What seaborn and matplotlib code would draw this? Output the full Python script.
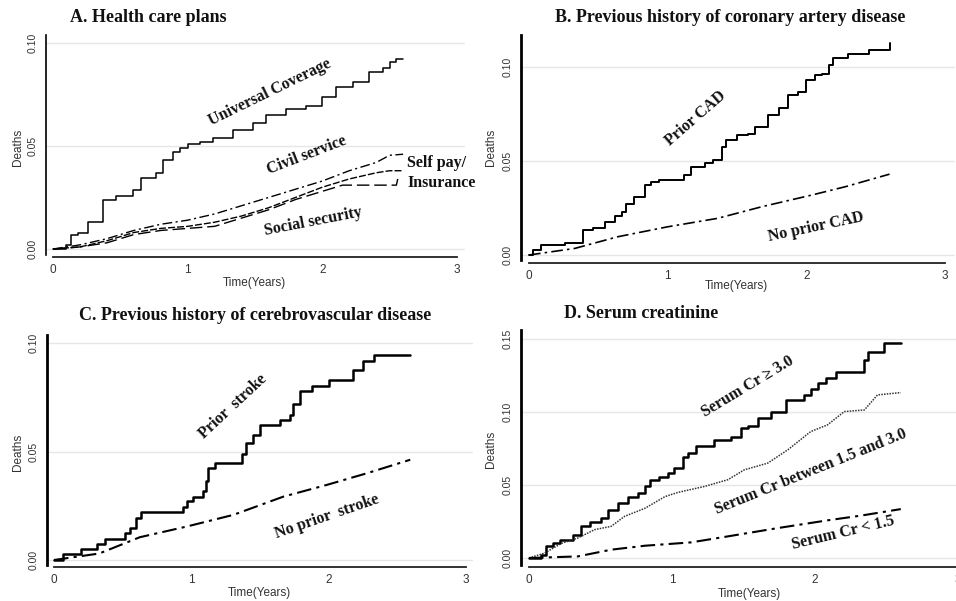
import matplotlib
matplotlib.use("Agg")
import matplotlib.pyplot as plt
import seaborn as sns
import pandas as pd

# ---------------- data ----------------
# A. Health care plans
A_uc_t = [0, 0.10, 0.136, 0.186, 0.26, 0.371, 0.47, 0.594, 0.656, 0.767, 0.817, 0.89, 0.94, 1.0, 1.09, 1.19, 1.34, 1.485, 1.58, 1.73, 1.88, 2.0, 2.1, 2.23, 2.35, 2.45, 2.5, 2.55, 2.6]
A_uc_y = [0, 0.002, 0.007, 0.008, 0.013, 0.024, 0.0256, 0.0285, 0.0345, 0.037, 0.043, 0.047, 0.049, 0.051, 0.052, 0.054, 0.0576, 0.061, 0.065, 0.068, 0.0696, 0.074, 0.0786, 0.081, 0.0858, 0.0879, 0.091, 0.092, 0.092]
A_civil_t = [0, 0.2, 0.4, 0.6, 0.8, 1.0, 1.2, 1.4, 1.6, 1.8, 2.0, 2.2, 2.4, 2.5, 2.6]
A_civil_y = [0, 0.002, 0.005, 0.009, 0.012, 0.014, 0.017, 0.021, 0.025, 0.029, 0.033, 0.038, 0.042, 0.0455, 0.046]
A_social_t = [0, 0.2, 0.4, 0.6, 0.8, 1.0, 1.2, 1.4, 1.6, 1.8, 2.0, 2.2, 2.4, 2.5, 2.6]
A_social_y = [0, 0.001, 0.004, 0.008, 0.010, 0.011, 0.013, 0.016, 0.020, 0.025, 0.030, 0.034, 0.037, 0.038, 0.038]
A_self_t = [0, 0.2, 0.4, 0.6, 0.8, 1.0, 1.2, 1.4, 1.6, 1.8, 2.0, 2.15, 2.55, 2.56]
A_self_y = [0, 0.001, 0.003, 0.007, 0.009, 0.010, 0.011, 0.015, 0.019, 0.024, 0.028, 0.031, 0.031, 0.034]

# B. Previous history of coronary artery disease
B_cad_t = [0, 0.03, 0.09, 0.26, 0.39, 0.46, 0.55, 0.62, 0.67, 0.70, 0.76, 0.835, 0.88, 0.94, 1.12, 1.17, 1.27, 1.33, 1.39, 1.42, 1.50, 1.58, 1.63, 1.72, 1.80, 1.87, 1.94, 2.00, 2.06, 2.11, 2.16, 2.19, 2.30, 2.45, 2.60]
B_cad_y = [0, 0.0027, 0.0053, 0.0065, 0.0133, 0.0145, 0.0177, 0.021, 0.023, 0.027, 0.031, 0.037, 0.039, 0.040, 0.0425, 0.047, 0.049, 0.0504, 0.0575, 0.0614, 0.0637, 0.0646, 0.068, 0.0743, 0.078, 0.085, 0.0867, 0.093, 0.0956, 0.0965, 0.101, 0.105, 0.107, 0.109, 0.113]
B_nocad_t = [0, 0.33, 0.64, 1.0, 1.36, 1.68, 2.04, 2.28, 2.60]
B_nocad_y = [0, 0.0035, 0.0097, 0.015, 0.0195, 0.0257, 0.0319, 0.0363, 0.043]

# C. Previous history of cerebrovascular disease
C_stroke_t = [0, 0.066, 0.20, 0.31, 0.37, 0.52, 0.55, 0.60, 0.636, 0.94, 0.965, 1.014, 1.087, 1.11, 1.123, 1.17, 1.366, 1.40, 1.45, 1.50, 1.646, 1.72, 1.74, 1.79, 1.877, 2.0, 2.18, 2.25, 2.33, 2.594]
C_stroke_y = [0, 0.0028, 0.0049, 0.0074, 0.0095, 0.0123, 0.0146, 0.0192, 0.022, 0.0246, 0.027, 0.0292, 0.032, 0.0362, 0.0423, 0.0446, 0.049, 0.054, 0.0577, 0.0623, 0.0646, 0.067, 0.072, 0.0777, 0.080, 0.083, 0.0877, 0.0915, 0.0946, 0.0946]
C_nostroke_t = [0, 0.33, 0.625, 0.965, 1.306, 1.67, 1.986, 2.28, 2.594]
C_nostroke_y = [0, 0.003, 0.0105, 0.0154, 0.0208, 0.0292, 0.0346, 0.040, 0.0462]

# D. Serum creatinine
D_hi_t = [0, 0.086, 0.12, 0.168, 0.214, 0.307, 0.366, 0.424, 0.505, 0.552, 0.62, 0.69, 0.76, 0.81, 0.843, 0.91, 0.97, 1.017, 1.076, 1.11, 1.17, 1.297, 1.413, 1.483, 1.53, 1.60, 1.69, 1.80, 1.925, 1.97, 2.02, 2.077, 2.147, 2.345, 2.368, 2.484, 2.60]
D_hi_y = [0, 0.0023, 0.0084, 0.0103, 0.0125, 0.016, 0.0217, 0.0244, 0.0274, 0.033, 0.0376, 0.042, 0.0445, 0.049, 0.0536, 0.0558, 0.058, 0.0615, 0.0695, 0.0718, 0.0764, 0.081, 0.0832, 0.089, 0.0905, 0.0957, 0.1003, 0.108, 0.1117, 0.116, 0.1197, 0.123, 0.1276, 0.1356, 0.141, 0.147, 0.147]
D_mid_t = [0, 0.11, 0.226, 0.342, 0.458, 0.575, 0.668, 0.81, 0.95, 1.04, 1.227, 1.39, 1.506, 1.67, 1.81, 1.97, 2.088, 2.205, 2.345, 2.437, 2.60]
D_mid_y = [0, 0.0034, 0.010, 0.0137, 0.0194, 0.0217, 0.0285, 0.034, 0.042, 0.0449, 0.049, 0.0536, 0.0604, 0.065, 0.0741, 0.0866, 0.0912, 0.1003, 0.1014, 0.1117, 0.1133]
D_lo_t = [0, 0.342, 0.575, 0.81, 1.134, 1.39, 1.74, 2.088, 2.32, 2.60]
D_lo_y = [0, 0.0011, 0.0057, 0.0084, 0.0107, 0.0148, 0.0205, 0.0258, 0.029, 0.0335]

x_ticks = [0, 1, 2, 3]
y_ticks_abc = [0.00, 0.05, 0.10]
y_ticks_d = [0.00, 0.05, 0.10, 0.15]

titles = ["A. Health care plans",
          "B. Previous history of coronary artery disease",
          "C. Previous history of cerebrovascular disease",
          "D. Serum creatinine"]

# ---------------- style ----------------
sns.set_theme(style="white")
plt.rcParams["font.family"] = ["Liberation Sans", "DejaVu Sans"]
SERIF = ["Liberation Serif", "DejaVu Serif"]

W, H = 956, 601
fig = plt.figure(figsize=(W / 100, H / 100), dpi=100)
fig.patch.set_facecolor("white")


def P(x, y):
    return x / W, 1 - y / H


def make_ax(x0, x3, left, right, y0, yt, ytv, top, bottom, xsp, yticks, spw):
    ppx = (x3 - x0) / 3.0
    ppy = (y0 - yt) / ytv
    ax = fig.add_axes([left / W, (H - bottom) / H, (right - left) / W, (bottom - top) / H])
    ax.set_xlim((left - x0) / ppx, (right - x0) / ppx)
    ax.set_ylim((y0 - bottom) / ppy, (y0 - top) / ppy)
    ax.set_facecolor("white")
    for s in ["top", "right"]:
        ax.spines[s].set_visible(False)
    ax.spines["left"].set_linewidth(spw)
    ax.spines["left"].set_color("black")
    ax.spines["bottom"].set_linewidth(1.3)
    ax.spines["bottom"].set_color("#222222")
    ax.spines["bottom"].set_position(("outward", (xsp - bottom) * 0.72))
    ax.spines["bottom"].set_bounds(0, 3)
    ax.set_xticks(x_ticks)
    ax.set_xticklabels([str(v) for v in x_ticks])
    ax.set_yticks(yticks)
    ax.set_yticklabels([f"{v:.2f}" for v in yticks])
    for v in yticks:
        ax.axhline(v, color="#e6e6e6", lw=1.0, zorder=0)
    ax.tick_params(axis="x", direction="in", length=3, width=1, colors="#222222",
                   labelsize=8.5, labelcolor="#333333", pad=5)
    ax.tick_params(axis="y", direction="out", length=3, width=1, colors="#222222",
                   labelsize=7.5, labelcolor="#333333", pad=3)
    plt.setp(ax.get_yticklabels(), rotation=90, va="center")
    ax.grid(False)
    return ax


def line(ax, t, y, lw, ls="-", steps=False, color="black"):
    assert len(t) == len(y)
    df = pd.DataFrame({"t": t, "y": y})
    kw = dict(drawstyle="steps-post") if steps else {}
    sns.lineplot(data=df, x="t", y="y", ax=ax, color=color, lw=lw, linestyle=ls,
                 estimator=None, sort=False, **kw)
    ax.set_xlabel("")
    ax.set_ylabel("")


DASHDOT = (0, (7, 2.5, 1.5, 2.5))

# ---------- Panel A ----------
axA = make_ax(53, 457, 46, 465, 249, 43, 0.10, 35, 255, 257, y_ticks_abc, 1.2)
line(axA, A_uc_t, A_uc_y, 1.1, steps=True)
line(axA, A_civil_t, A_civil_y, 1.0, DASHDOT)
line(axA, A_social_t, A_social_y, 1.0, (0, (5, 1.5)))
line(axA, A_self_t, A_self_y, 1.0, (0, (9, 3.5)))

# ---------- Panel B ----------
axB = make_ax(529, 945, 521, 955, 255, 67, 0.10, 35, 260, 263, y_ticks_abc, 2.0)
line(axB, B_cad_t, B_cad_y, 1.4, steps=True)
line(axB, B_nocad_t, B_nocad_y, 1.2, DASHDOT)

# ---------- Panel C ----------
axC = make_ax(54, 466, 47, 473, 560, 343, 0.10, 335, 565, 567, y_ticks_abc, 2.0)
line(axC, C_stroke_t, C_stroke_y, 1.8, steps=True)
line(axC, C_nostroke_t, C_nostroke_y, 1.5, DASHDOT)

# ---------- Panel D ----------
axD = make_ax(529, 958, 521, 962, 558, 339, 0.15, 330, 565, 567, y_ticks_d, 2.0)
line(axD, D_hi_t, D_hi_y, 1.8, steps=True)
line(axD, D_mid_t, D_mid_y, 1.1, (0, (1, 0.8)), color="#333333")
line(axD, D_lo_t, D_lo_y, 1.5, DASHDOT)

# axis titles
for ax, (xl, yl), (yx, yy) in [
    (axA, (254, 283), (18, 147)),
    (axB, (736, 286), (491, 147)),
    (axC, (259, 593), (18, 452)),
    (axD, (749, 594), (491, 449)),
]:
    ax.set_ylabel("Deaths", fontsize=8.5, color="#333333")
    ax.yaxis.set_label_coords(*P(yx, yy), transform=fig.transFigure)
    ax.set_xlabel("Time(Years)", fontsize=8.5, color="#333333")
    ax.xaxis.set_label_coords(*P(xl, yl), transform=fig.transFigure)
    ax.xaxis.label.set_va("center")
    ax.yaxis.label.set_va("center")

# panel titles
for txt, (tx, ty) in zip(titles, [(148, 18), (730, 17), (255, 316), (641, 313)]):
    fig.text(*P(tx, ty), txt, family=SERIF, fontweight="bold", fontsize=13,
             ha="center", va="center", color="#111111")

# curve labels
labels = [
    ("Universal Coverage", 270, 92, 26, "center"),
    ("Civil service", 307, 155, 21, "center"),
    ("Self pay/", 407, 163, 0, "left"),
    ("Insurance", 407, 183, 0, "left"),
    ("Social security", 313, 222, 11, "center"),
    ("Prior CAD", 696, 118, 41, "center"),
    ("No prior CAD", 816, 227, 12, "center"),
    ("Prior  stroke", 233, 407, 43, "center"),
    ("No prior  stroke", 327, 517, 19, "center"),
    ("Serum Cr \u2265 3.0", 748, 387, 31, "center"),
    ("Serum Cr between 1.5 and 3.0", 811, 472, 22, "center"),
    ("Serum Cr < 1.5", 843, 533, 13.5, "center"),
]
for txt, x, y, rot, ha in labels:
    fig.text(*P(x, y), txt, family=SERIF, fontweight="bold", fontsize=11.5,
             rotation=rot, rotation_mode="anchor", ha=ha, va="center", color="#111111")

fig.savefig("out.png", dpi=100, facecolor="white")
